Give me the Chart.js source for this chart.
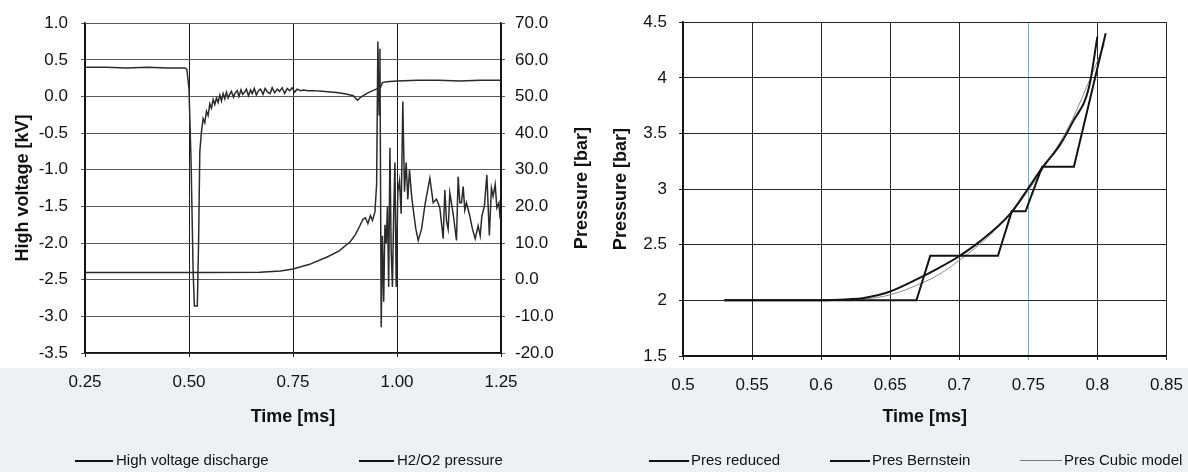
<!DOCTYPE html>
<html>
<head>
    <title>High voltage discharge and pressure</title>
    <script src="https://cdn.jsdelivr.net/npm/chart.js"></script>
    <style>
        body { margin: 0; width: 1188px; height: 472px; background: #fff; position: relative; overflow: hidden;
               font-family: 'Liberation Sans', Arial, sans-serif; }
        .band { position: absolute; left: 0; top: 368px; width: 1188px; height: 104px; background: #eef1f4; }
        .box { position: absolute; top: 0; height: 472px; }
        #leftBox { left: 0; width: 595px; }
        #rightBox { left: 595px; width: 603px; }
        .leg { position: absolute; top: 451px; font-size: 15px; color: #111; line-height: 18px; white-space: nowrap; }
        .leg i { position: absolute; top: 9px; height: 2px; background: #111; }
    </style>
</head>
<body>
    <div class="band"></div>
    <div class="box" id="leftBox"><canvas id="leftChart"></canvas></div>
    <div class="box" id="rightBox"><canvas id="rightChart"></canvas></div>

    <div class="leg" style="left:75px"><i style="left:0;width:38px"></i><span style="margin-left:41px">High voltage discharge</span></div>
    <div class="leg" style="left:359px"><i style="left:0;width:35px"></i><span style="margin-left:38px">H2/O2 pressure</span></div>
    <div class="leg" style="left:649px"><i style="left:0;width:40px"></i><span style="margin-left:42px">Pres reduced</span></div>
    <div class="leg" style="left:830px"><i style="left:0;width:40px"></i><span style="margin-left:42px">Pres Bernstein</span></div>
    <div class="leg" style="left:1020px"><i style="left:0;width:42px;height:1px;background:#777"></i><span style="margin-left:44px">Pres Cubic model</span></div>

    <script>
        // left chart: high voltage [kV] and H2/O2 pressure [bar] vs time [ms]
        const hvTime = [0.25, 0.30, 0.35, 0.40, 0.45, 0.49, 0.495, 0.500, 0.505, 0.510, 0.513, 0.520, 0.523, 0.526,
            0.530, 0.534, 0.538, 0.542, 0.546, 0.550, 0.554, 0.558, 0.562, 0.566, 0.570, 0.574, 0.578, 0.582,
            0.586, 0.590, 0.594, 0.598, 0.602, 0.607, 0.611, 0.616, 0.620, 0.625, 0.629, 0.634, 0.638, 0.643,
            0.648, 0.652, 0.657, 0.662, 0.667, 0.672, 0.678, 0.683, 0.689, 0.695, 0.700, 0.706, 0.712, 0.718,
            0.724, 0.730, 0.736, 0.742, 0.748, 0.754, 0.760, 0.768, 0.776, 0.785, 0.800, 0.820, 0.840, 0.860,
            0.880, 0.895, 0.905, 0.915, 0.930, 0.950, 0.960, 0.965, 0.975, 1.000, 1.050, 1.100, 1.150, 1.200, 1.250];
        const hvKV = [0.40, 0.40, 0.39, 0.40, 0.39, 0.39, 0.37, 0.10, -0.90, -2.40, -2.86, -2.86, -2.00, -0.75,
            -0.48, -0.30, -0.36, -0.20, -0.26, -0.10, -0.16, -0.04, -0.11, -0.02, -0.08, 0.02, -0.06, 0.04,
            -0.03, 0.06, -0.02, 0.03, 0.07, -0.01, 0.05, 0.08, 0.00, 0.09, 0.03, 0.06, 0.10, 0.01,
            0.09, 0.04, 0.11, 0.02, 0.08, 0.10, 0.03, 0.11, 0.06, 0.04, 0.12, 0.05, 0.10, 0.07,
            0.12, 0.04, 0.11, 0.08, 0.12, 0.06, 0.10, 0.08, 0.09, 0.08, 0.08, 0.07, 0.06, 0.05,
            0.03, 0.01, -0.05, 0.00, 0.05, 0.10, 0.12, 0.19, 0.20, 0.21, 0.22, 0.22, 0.21, 0.22, 0.22];

        const h2Time = [0.25, 0.40, 0.55, 0.67, 0.72, 0.75, 0.79, 0.832, 0.860, 0.887, 0.900, 0.911, 0.918, 0.924,
            0.930, 0.936, 0.941, 0.947, 0.951, 0.954, 0.957, 0.959, 0.962, 0.965, 0.968, 0.971, 0.974, 0.977,
            0.980, 0.983, 0.986, 0.989, 0.992, 0.995, 0.998, 1.002, 1.006, 1.010, 1.014, 1.018, 1.022, 1.026,
            1.030, 1.035, 1.039, 1.045, 1.051, 1.059, 1.068, 1.079, 1.087, 1.095, 1.103, 1.111, 1.115, 1.119,
            1.123, 1.127, 1.135, 1.143, 1.147, 1.151, 1.155, 1.159, 1.163, 1.167, 1.175, 1.181, 1.188, 1.195,
            1.200, 1.204, 1.210, 1.216, 1.222, 1.227, 1.231, 1.236, 1.240, 1.245, 1.248];
        const h2Bar = [2.0, 2.0, 2.0, 2.05, 2.4, 2.95, 4.2, 6.2, 7.8, 10.3, 12.3, 14.8, 16.5, 16.9,
            15.3, 17.5, 16.2, 18.5, 26, 65, 45, 63, -13, 12, -6, 15, 10, 20,
            -2, 36, 8, -2, 18, 32, -2, 24, 27, 18, 48.6, 24, 32, 22,
            30, 23, 19.2, 14, 10.7, 13.8, 21, 27.7, 21.0, 22, 19.6, 11.2, 24.5, 16,
            13.8, 23.7, 18, 10.7, 28.1, 21, 21.0, 25.4, 19, 21.0, 17.4, 14, 11.2, 14.7,
            12, 17.4, 20, 28.6, 12.1, 25, 22.8, 26, 19.6, 21, 16.5];

        const leftXTicks = [0.25, 0.50, 0.75, 1.00, 1.25];
        const kvTicks = [-3.5, -3.0, -2.5, -2.0, -1.5, -1.0, -0.5, 0.0, 0.5, 1.0];
        const barTicks = [-20, -10, 0, 10, 20, 30, 40, 50, 60, 70];

        // right chart: pressure models vs time [ms]
        const reducedTime = [0.53, 0.669, 0.679, 0.728, 0.738, 0.748, 0.760, 0.783, 0.806];
        const reducedPres = [2.0, 2.0, 2.4, 2.4, 2.8, 2.8, 3.2, 3.2, 4.4];
        const bernTime = [0.53, 0.56, 0.60, 0.62, 0.63, 0.65, 0.671, 0.685, 0.699, 0.715, 0.737, 0.749, 0.760,
            0.773, 0.782, 0.794, 0.800];
        const bernPres = [2.0, 2.0, 2.0, 2.01, 2.02, 2.08, 2.2, 2.29, 2.39, 2.53, 2.78, 2.99, 3.19,
            3.4, 3.6, 3.92, 4.37];
        const cubicTime = [0.53, 0.60, 0.63, 0.65, 0.67, 0.685, 0.70, 0.72, 0.74, 0.76, 0.78, 0.795, 0.805];
        const cubicPres = [2.0, 2.0, 2.01, 2.05, 2.14, 2.23, 2.36, 2.56, 2.82, 3.17, 3.58, 4.0, 4.3];

        const rightXTicks = [0.5, 0.55, 0.6, 0.65, 0.7, 0.75, 0.8, 0.85];
        const rightXLabels = ['0.5', '0.55', '0.6', '0.65', '0.7', '0.75', '0.8', '0.85'];
        const presTicks = [1.5, 2, 2.5, 3, 3.5, 4, 4.5];
        const presLabels = ['1.5', '2', '2.5', '3', '3.5', '4', '4.5'];

        const FONT = "'Liberation Sans', Arial, sans-serif";
        const INK = '#111';
        Chart.defaults.font.family = FONT;
        Chart.defaults.color = INK;

        const pairs = (xs, ys) => xs.map((x, i) => ({ x: x, y: ys[i] }));
        const fixTicks = (arr) => (scale) => { scale.ticks = arr.map(v => ({ value: v })); };
        const tickFont = { size: 17 };
        const titleFont = { size: 18, weight: 'bold' };

        // right-hand axis title reads bottom-to-top in the reference
        const sideTitle = {
            id: 'sideTitle',
            afterDraw(chart, args, opts) {
                if (!opts.text) return;
                const ctx = chart.ctx;
                ctx.save();
                ctx.translate(opts.x, (chart.chartArea.top + chart.chartArea.bottom) / 2);
                ctx.rotate(-Math.PI / 2);
                ctx.font = 'bold 18px ' + FONT;
                ctx.fillStyle = INK;
                ctx.textAlign = 'center';
                ctx.textBaseline = 'middle';
                ctx.fillText(opts.text, 0, 0);
                ctx.restore();
            }
        };

        new Chart(document.getElementById('leftChart'), {
            type: 'line',
            data: {
                datasets: [
                    { label: 'High voltage discharge', data: pairs(hvTime, hvKV), yAxisID: 'yV',
                      borderColor: '#2b2b2b', borderWidth: 1.5, pointRadius: 0, tension: 0 },
                    { label: 'H2/O2 pressure', data: pairs(h2Time, h2Bar), yAxisID: 'yP',
                      borderColor: '#2b2b2b', borderWidth: 1.5, pointRadius: 0, tension: 0 }
                ]
            },
            options: {
                responsive: true, maintainAspectRatio: false, animation: false,
                layout: { padding: { top: 17, left: 0, right: 0, bottom: 0 } },
                plugins: { legend: { display: false }, tooltip: { enabled: false },
                           sideTitle: { text: 'Pressure [bar]', x: 582 } },
                scales: {
                    x: { type: 'linear', position: 'bottom', min: 0.25, max: 1.25,
                         afterBuildTicks: fixTicks(leftXTicks),
                         afterFit: (s) => { s.height = 119; },
                         ticks: { font: tickFont, padding: 15, callback: (v) => v.toFixed(2) },
                         grid: { color: '#1a1a1a', lineWidth: 1, tickLength: 4 },
                         border: { color: INK, width: 1.5 },
                         title: { display: true, text: 'Time [ms]', font: titleFont, padding: { top: 0, bottom: 44 } } },
                    yV: { type: 'linear', position: 'left', min: -3.5, max: 1.0,
                          afterBuildTicks: fixTicks(kvTicks),
                          afterFit: (s) => { s.width = 85; },
                          ticks: { font: tickFont, padding: 13, callback: (v) => v.toFixed(1) },
                          grid: { color: '#5a5a5a', lineWidth: 1, tickLength: 4 },
                          border: { color: INK, width: 1.5 },
                          title: { display: true, text: 'High voltage [kV]', font: titleFont, padding: { top: 12, bottom: 0 } } },
                    yP: { type: 'linear', position: 'right', min: -20, max: 70,
                          afterBuildTicks: fixTicks(barTicks),
                          afterFit: (s) => { s.width = 94; },
                          ticks: { font: tickFont, padding: 10, callback: (v) => v.toFixed(1) },
                          grid: { drawOnChartArea: false, color: '#5a5a5a', tickLength: 4 },
                          border: { color: INK, width: 1.5 } }
                }
            },
            plugins: [sideTitle]
        });

        new Chart(document.getElementById('rightChart'), {
            type: 'line',
            data: {
                datasets: [
                    { label: 'Pres reduced', data: pairs(reducedTime, reducedPres),
                      borderColor: '#141414', borderWidth: 2, pointRadius: 0, tension: 0 },
                    { label: 'Pres Bernstein', data: pairs(bernTime, bernPres),
                      borderColor: '#141414', borderWidth: 2, pointRadius: 0, cubicInterpolationMode: 'monotone' },
                    { label: 'Pres Cubic model', data: pairs(cubicTime, cubicPres),
                      borderColor: '#8a8a8a', borderWidth: 1, pointRadius: 0, cubicInterpolationMode: 'monotone' }
                ]
            },
            options: {
                responsive: true, maintainAspectRatio: false, animation: false,
                layout: { padding: { top: 14, left: 0, right: 0, bottom: 0 } },
                plugins: { legend: { display: false }, tooltip: { enabled: false } },
                scales: {
                    x: { type: 'linear', position: 'bottom', min: 0.5, max: 0.85,
                         afterBuildTicks: fixTicks(rightXTicks),
                         afterFit: (s) => { s.height = 116; },
                         ticks: { font: tickFont, padding: 15,
                                  callback: (v) => rightXLabels[rightXTicks.indexOf(v)] },
                         grid: { color: (c) => (c.tick && c.tick.value === 0.75) ? '#6fb2d2' : '#262626',
                                 lineWidth: 1, tickLength: 4 },
                         border: { color: INK, width: 1.5 },
                         title: { display: true, text: 'Time [ms]', font: titleFont, padding: { top: 0, bottom: 44 } } },
                    y: { type: 'linear', position: 'left', min: 1.5, max: 4.5,
                         afterBuildTicks: fixTicks(presTicks),
                         afterFit: (s) => { s.width = 88; },
                         ticks: { font: tickFont, padding: 12,
                                  callback: (v) => presLabels[presTicks.indexOf(v)] },
                         grid: { color: '#262626', lineWidth: 1, tickLength: 4 },
                         border: { color: INK, width: 1.5 },
                         title: { display: true, text: 'Pressure [bar]', font: titleFont, padding: { top: 15, bottom: 0 } } }
                }
            }
        });
    </script>
</body>
</html>
